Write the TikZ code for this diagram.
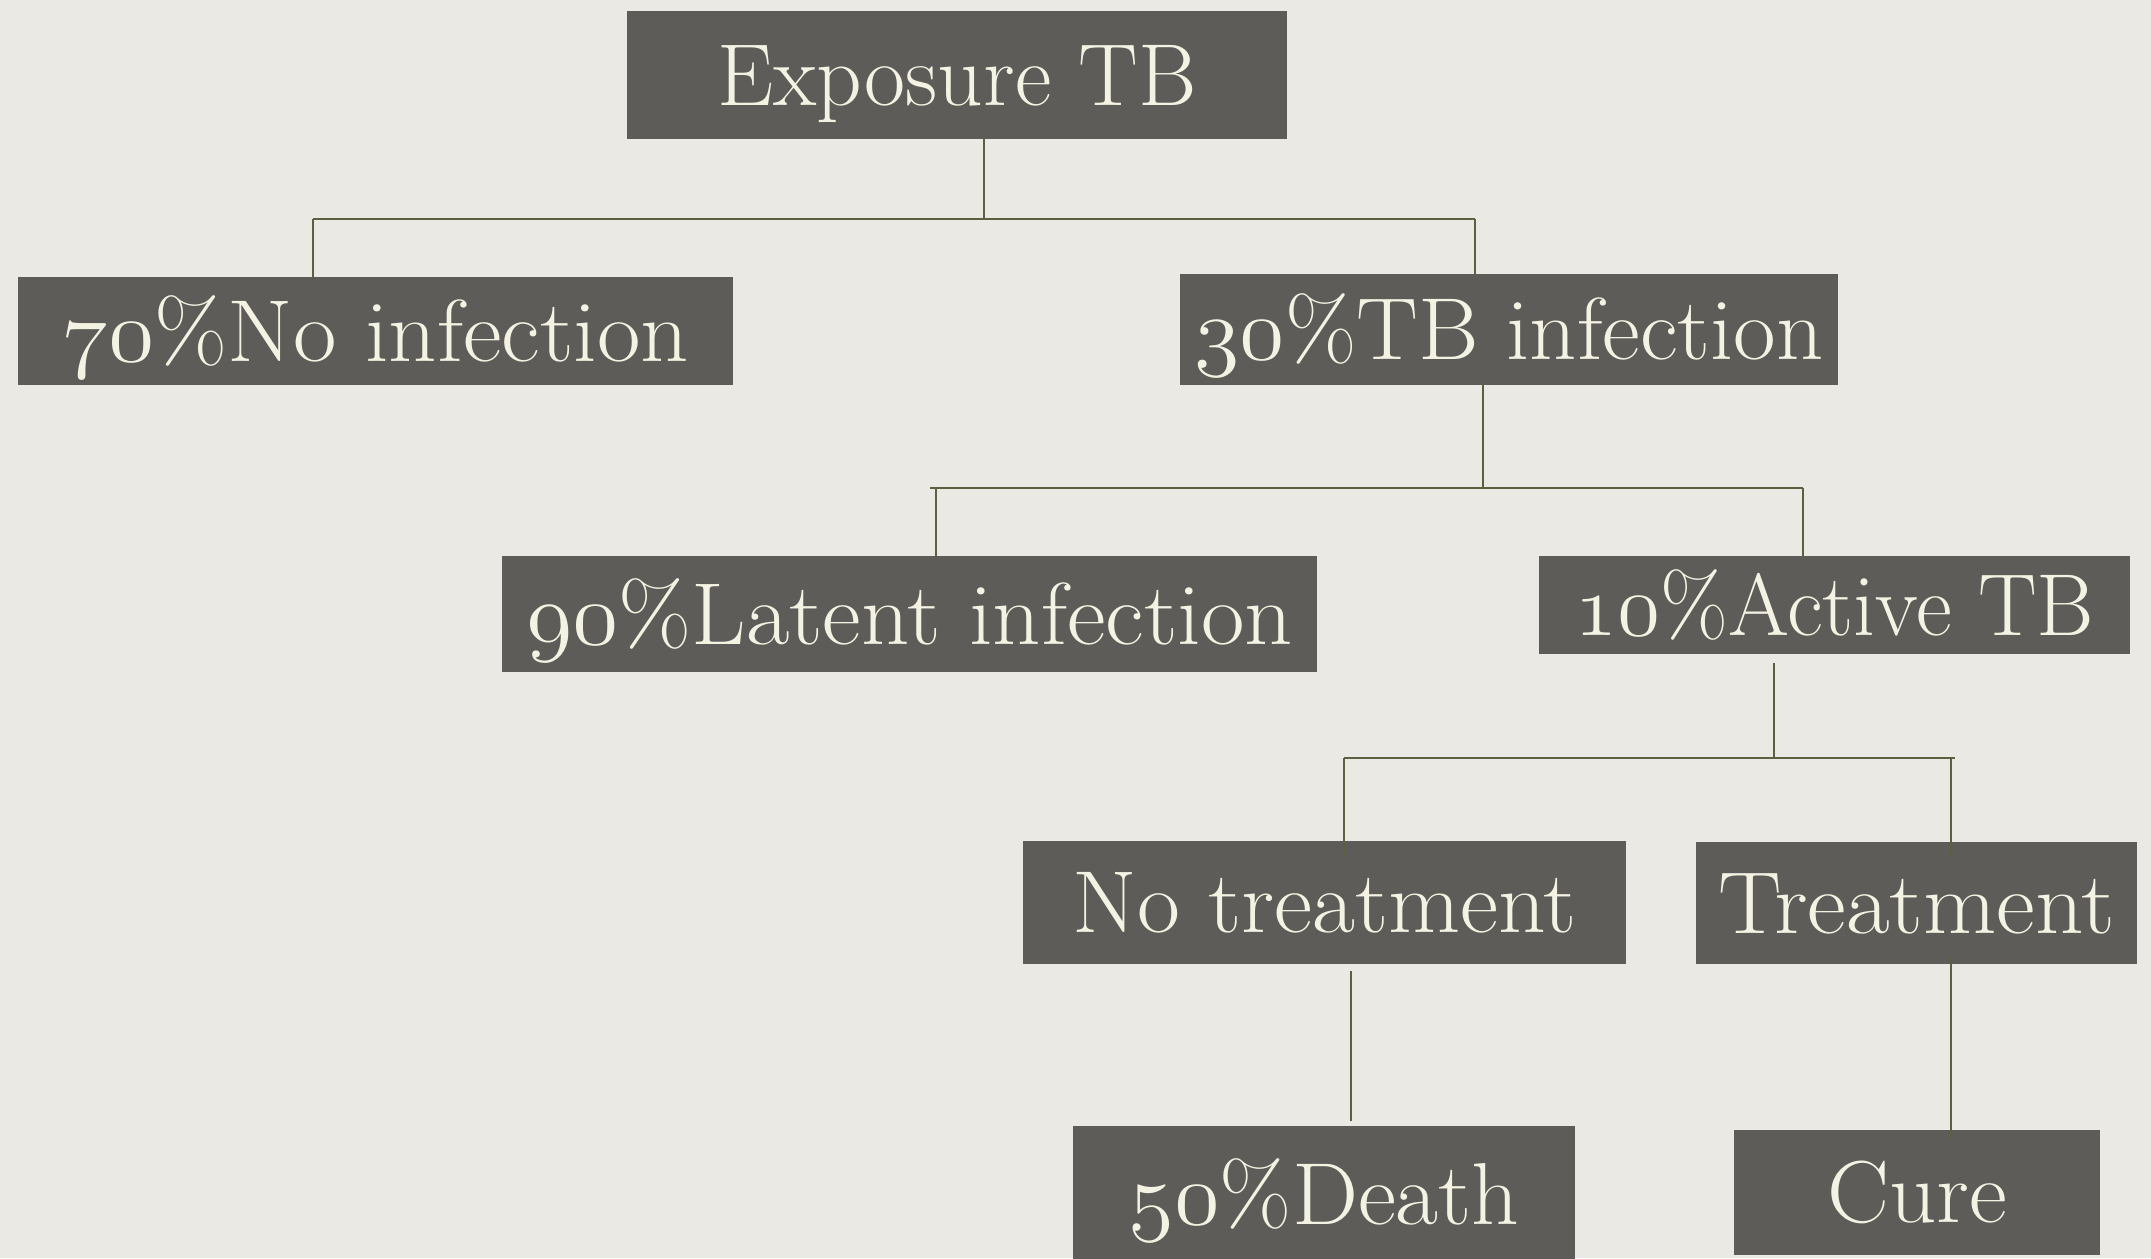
\RequirePackage{fix-cm}
\documentclass[tikz,border=0pt]{standalone}
\usepackage{graphicx}
\definecolor{bgc}{HTML}{EAE9E3}
\definecolor{boxc}{HTML}{5D5C58}
\definecolor{linec}{HTML}{5B6140}
\definecolor{txtc}{HTML}{F4F2E2}
\newcommand\lbl[2]{\resizebox{#1pt}{\height}{\fontsize{88}{88}\selectfont #2}}
\newcommand\osn[1]{{\fontencoding{OML}\fontfamily{cmm}\fontseries{m}\fontshape{it}\fontsize{88}{88}\selectfont #1}}
\tikzset{
  tbox/.style={fill=boxc, text=txtc, inner sep=0pt, text height=60pt, text depth=0pt, align=center},
  conn/.style={draw=linec, line width=2.6pt}
}
\begin{document}
\begin{tikzpicture}[x=1pt,y=-1pt]
\fill[bgc] (0,0) rectangle (2151,1258);
\useasboundingbox (0,0) rectangle (2151,1258);
\node[tbox, minimum width=660pt, minimum height=128pt] (expo) at (957,75) {\lbl{479}{Exposure TB}};
\node[tbox, minimum width=715pt, minimum height=108pt] (noinf) at (375.5,331) {\lbl{627}{\osn{70}\%No infection}};
\node[tbox, minimum width=658pt, minimum height=111pt] (tbinf) at (1509,329.5) {\lbl{629}{\osn{30}\%TB infection}};
\node[tbox, minimum width=815pt, minimum height=116pt] (latent) at (909.5,614) {\lbl{767}{\osn{90}\%Latent infection}};
\node[tbox, minimum width=591pt, minimum height=98pt] (active) at (1834.5,605) {\lbl{520}{\osn{10}\%Active TB}};
\node[tbox, minimum width=603pt, minimum height=123pt] (notreat) at (1324.5,902.5) {\lbl{504}{No treatment}};
\node[tbox, minimum width=441pt, minimum height=122pt] (treat) at (1916.5,903) {\lbl{397}{Treatment}};
\node[tbox, minimum width=502pt, minimum height=136pt] (death) at (1324,1194) {\lbl{391}{\osn{50}\%Death}};
\node[tbox, minimum width=366pt, minimum height=125pt] (cure) at (1917,1192.5) {\lbl{180}{Cure}};
% level 1
\coordinate (j1) at (984,219);
\coordinate (a1) at (313,219);
\coordinate (b1) at (1475,219);
\draw[conn] (expo.south -| j1) -- (j1);
\draw[conn] (a1) -- (b1);
\draw[conn] (a1) -- (noinf.north -| a1);
\draw[conn] (b1) -- (tbinf.north -| b1);
% level 2
\coordinate (j2) at (1483,488);
\coordinate (a2) at (930,488);
\coordinate (b2) at (1803,488);
\coordinate (a2v) at (936,488);
\draw[conn] (tbinf.south -| j2) -- (j2);
\draw[conn] (a2) -- (b2);
\draw[conn] (a2v) -- (latent.north -| a2v);
\draw[conn] (b2) -- (active.north -| b2);
% level 3
\coordinate (j3s) at (1774,663);
\coordinate (j3) at (1774,758);
\coordinate (a3) at (1344,758);
\coordinate (b3) at (1955,758);
\coordinate (b3v) at (1951,758);
\coordinate (a3e) at (1344,857);
\coordinate (b3e) at (1951,857);
\draw[conn] (j3s) -- (j3);
\draw[conn] (a3) -- (b3);
\draw[conn] (a3) -- (a3e);
\draw[conn] (b3v) -- (b3e);
% level 4
\coordinate (d1) at (1351,971);
\coordinate (d2) at (1351,1121);
\draw[conn] (d1) -- (d2);
\coordinate (c1) at (1951,955);
\coordinate (c2) at (1951,1139);
\draw[conn] (c1) -- (c2);
\end{tikzpicture}
\end{document}
